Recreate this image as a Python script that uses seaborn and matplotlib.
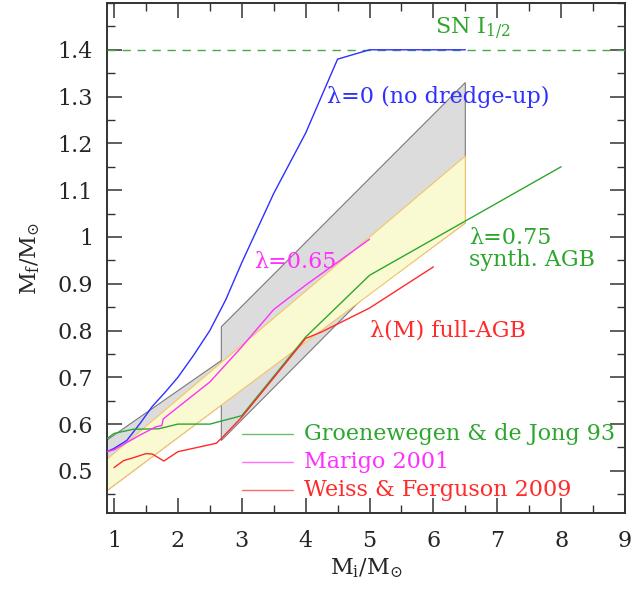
import matplotlib
matplotlib.use("Agg")
import matplotlib.pyplot as plt
import seaborn as sns
import pandas as pd
from matplotlib.ticker import MultipleLocator, FuncFormatter

# ---------------- data ----------------
lam0_x = [0.89, 1.0, 1.2, 1.4, 1.6, 1.8, 2.0, 2.25, 2.5, 2.75, 3.0, 3.5, 4.0, 4.5, 5.0, 6.5]
lam0_y = [0.541, 0.548, 0.565, 0.600, 0.638, 0.668, 0.700, 0.748, 0.800, 0.866, 0.945,
          1.093, 1.222, 1.380, 1.400, 1.400]

marigo_x = [0.89, 1.0, 1.4, 1.65, 1.75, 1.77, 2.0, 2.5, 3.0, 3.5, 4.0, 5.0]
marigo_y = [0.541, 0.545, 0.576, 0.594, 0.597, 0.611, 0.636, 0.690, 0.765, 0.845, 0.897, 0.995]

groen_x = [0.89, 1.0, 1.3, 1.7, 2.0, 2.5, 3.0, 4.0, 5.0, 8.0]
groen_y = [0.569, 0.580, 0.589, 0.590, 0.600, 0.600, 0.618, 0.786, 0.918, 1.150]

weiss_x = [1.0, 1.15, 1.3, 1.5, 1.6, 1.78, 2.0, 2.6, 2.7, 3.0, 4.0, 4.25, 5.0, 6.0]
weiss_y = [0.507, 0.522, 0.528, 0.537, 0.536, 0.521, 0.541, 0.559, 0.572, 0.615, 0.783, 0.797, 0.848, 0.936]

gray_x = [0.89, 2.68, 2.68, 6.5, 6.5, 4.87, 2.68, 2.68, 0.89]
gray_y = [0.566, 0.736, 0.808, 1.33, 1.03, 0.866, 0.565, 0.641, 0.458]

yellow_x = [0.89, 6.5, 6.5, 0.89]
yellow_y = [0.458, 1.03, 1.173, 0.525]

sn_limit = 1.40
x_ticks = [1, 2, 3, 4, 5, 6, 7, 8, 9]
y_ticks = [0.5, 0.6, 0.7, 0.8, 0.9, 1.0, 1.1, 1.2, 1.3, 1.4]

legend_labels = ["Groenewegen & de Jong 93", "Marigo 2001", "Weiss & Ferguson 2009"]
legend_y = [0.578, 0.518, 0.460]

# ---------------- styling ----------------
sns.set_style("ticks")
plt.rcParams["font.family"] = ["DejaVu Serif"]
plt.rcParams["mathtext.fontset"] = "dejavuserif"

BLUE = "#2f2fff"
MAGENTA = "#ff30ff"
GREEN = "#2ea62e"
RED = "#ff2a2a"

fig = plt.figure(figsize=(6.34, 5.93), dpi=100)
ax = fig.add_axes([107 / 634, 1 - 513 / 593, (625 - 107) / 634, (513 - 3) / 593])

# bands
ax.fill(gray_x, gray_y, facecolor="#dcdcdc", edgecolor="#7a7a7a", lw=0.8, zorder=1)
ax.fill(yellow_x, yellow_y, facecolor="#fafad2", edgecolor="#f2c46a", lw=0.8, zorder=2)

# SN limit
ax.axhline(sn_limit, color="#4aa84a", lw=1.0, dashes=(6, 4.8), zorder=3)

lw = 1.0
def line(xs, ys, color):
    df = pd.DataFrame({"x": xs, "y": ys})
    sns.lineplot(data=df, x="x", y="y", sort=False, estimator=None,
                 color=color, lw=lw, ax=ax, zorder=4)

line(lam0_x, lam0_y, BLUE)
line(groen_x, groen_y, GREEN)
line(marigo_x, marigo_y, MAGENTA)
line(weiss_x, weiss_y, RED)

fs = 16
# legend drawn as in the reference (short segments + text)
leg_colors = [GREEN, MAGENTA, RED]
for lab, yy, c in zip(legend_labels, legend_y, leg_colors):
    seg = pd.DataFrame({"x": [3.0, 3.8], "y": [yy, yy]})
    sns.lineplot(data=seg, x="x", y="y", color=c, lw=1.0, alpha=0.7, ax=ax,
                 estimator=None, sort=False, zorder=5)
    ax.text(3.98, yy, lab, color=c, fontsize=fs, va="center", ha="left", zorder=6)

ax.text(6.02, 1.436, r"SN I$_{1/2}$", color=GREEN, fontsize=fs, va="baseline")
ax.text(4.34, 1.30, "λ=0 (no dredge-up)", color=BLUE, fontsize=fs, va="center")
ax.text(3.20, 0.947, "λ=0.65", color=MAGENTA, fontsize=fs, va="center")
ax.text(6.56, 0.997, "λ=0.75", color=GREEN, fontsize=fs, va="center")
ax.text(6.56, 0.950, "synth. AGB", color=GREEN, fontsize=fs, va="center")
ax.text(5.0, 0.800, "λ(M) full-AGB", color=RED, fontsize=fs, va="center")

# axes
ax.set_xlim(0.89, 9.0)
ax.set_ylim(0.41, 1.50)
ax.set_xticks(x_ticks)
ax.set_yticks(y_ticks)
ax.xaxis.set_minor_locator(MultipleLocator(0.5))
ax.yaxis.set_minor_locator(MultipleLocator(0.05))
ax.yaxis.set_major_formatter(FuncFormatter(lambda v, p: "%g" % round(v, 2)))
ax.tick_params(which="both", direction="in", top=True, right=True,
               labeltop=False, labelright=False, color="#333333")
ax.tick_params(which="major", length=11, width=1.1, labelsize=16, pad=10)
ax.tick_params(which="minor", length=6, width=1.0)
ax.tick_params(axis="x", which="major", pad=12)
for s in ax.spines.values():
    s.set_linewidth(1.4)
    s.set_color("#333333")

ax.set_xlabel(r"M$_{\rm i}$/M$_{\odot}$", fontsize=16)
ax.set_ylabel(r"M$_{\rm f}$/M$_{\odot}$", fontsize=16)
ax.xaxis.set_label_coords(0.5, -0.085)
ax.yaxis.set_label_coords(-0.125, 0.5)

fig.savefig("out.png", dpi=100)
